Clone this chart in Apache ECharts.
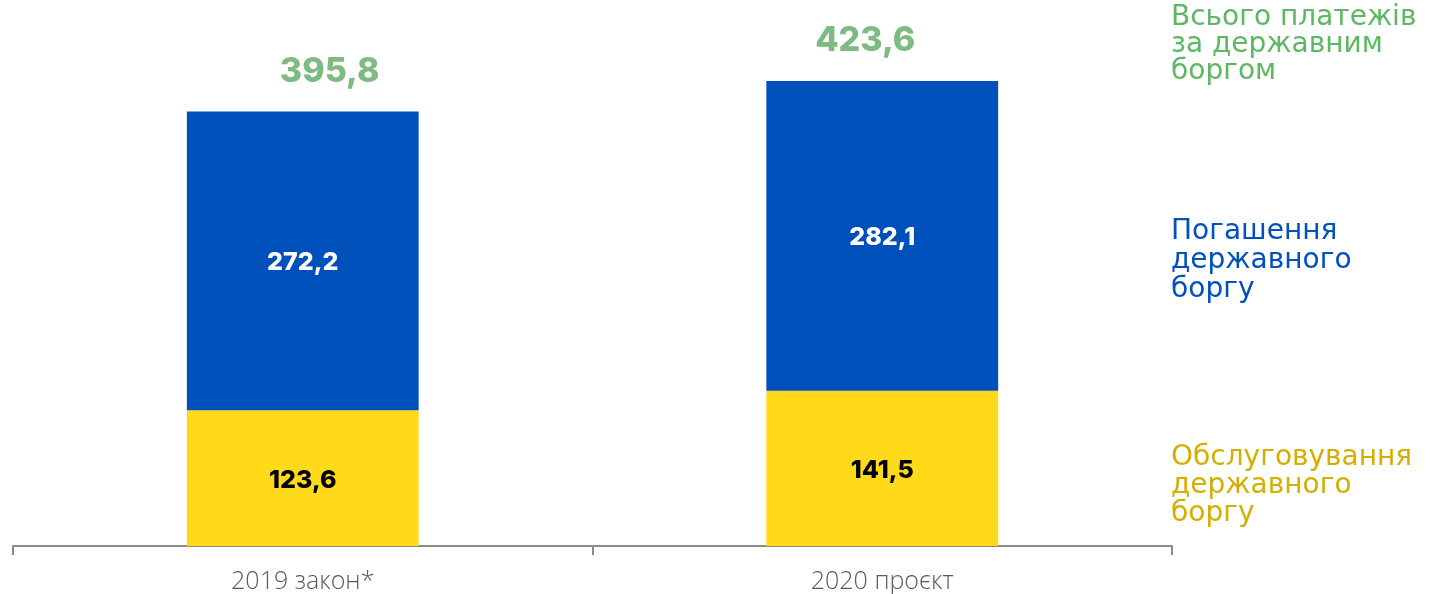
<!DOCTYPE html>
<html><head><meta charset="utf-8">
<script src="https://cdn.jsdelivr.net/npm/echarts@6/dist/echarts.min.js"></script>
<style>html,body{margin:0;padding:0;background:#fff}#c{width:1438px;height:594px}</style>
</head><body><div id="c"></div>
<script>
const categories = ['2019 закон*', '2020 проєкт'];
const servicing = [123.6, 141.5];
const repayment = [272.2, 282.1];
const totals = [395.8, 423.6];
const legendNames = ['Всього платежів\nза державним\nборгом', 'Погашення\nдержавного\nборгу', 'Обслуговування\nдержавного\nборгу'];
const fmt = v => String(v.toFixed(1)).replace('.', ',');

const chart = echarts.init(document.getElementById('c'));
const FONT = 'Inter, "Noto Sans", sans-serif';
const LEG = '28px "DejaVu Sans", sans-serif';
const totalOffsets = [[27, 0], [-17, 0]];
chart.setOption({
  animation: false,
  grid: {left: 13, right: 266, top: 19, bottom: 45},
  xAxis: {
    type: 'category', data: categories,
    axisLine: {lineStyle: {color: '#8a8a8a', width: 2}},
    axisTick: {show: true, length: 9, lineStyle: {color: '#8a8a8a', width: 2}},
    axisLabel: {color: '#5a5a5a', fontSize: 25, fontFamily: '"Open Sans", sans-serif', fontWeight: 300, margin: 23}
  },
  yAxis: {type: 'value', min: 0, max: 480, show: false, splitLine: {show: false}},
  series: [
    {type: 'bar', stack: 's', data: servicing, barWidth: '40%', itemStyle: {color: '#FFDA1A'},
     label: {show: true, position: 'inside', offset: [0, 2], color: '#000', fontSize: 25, fontWeight: 800, fontFamily: FONT, formatter: p => fmt(p.value)}},
    {type: 'bar', stack: 's', data: repayment, barWidth: '40%', itemStyle: {color: '#0050BB'},
     label: {show: true, position: 'inside', offset: [0, 2], color: '#fff', fontSize: 25, fontWeight: 800, fontFamily: FONT, formatter: p => fmt(p.value)}},
    {type: 'bar', stack: 's', barWidth: '40%', itemStyle: {color: 'transparent'},
     data: totals.map((v, i) => ({value: 0, label: {offset: totalOffsets[i]}})),
     label: {show: true, position: 'top', distance: 23, color: '#7DBB82', fontSize: 34, fontWeight: 800, fontFamily: FONT,
       formatter: p => fmt(totals[p.dataIndex])}}
  ],
  graphic: [
    {type: 'text', left: 1171, top: 4, style: {text: legendNames[0], fill: '#5CB862', font: LEG, lineHeight: 27}},
    {type: 'text', left: 1171, top: 217, style: {text: legendNames[1], fill: '#0050BE', font: LEG, lineHeight: 29}},
    {type: 'text', left: 1171, top: 444, style: {text: legendNames[2], fill: '#D4AF00', font: LEG, lineHeight: 28}}
  ]
});
</script></body></html>
